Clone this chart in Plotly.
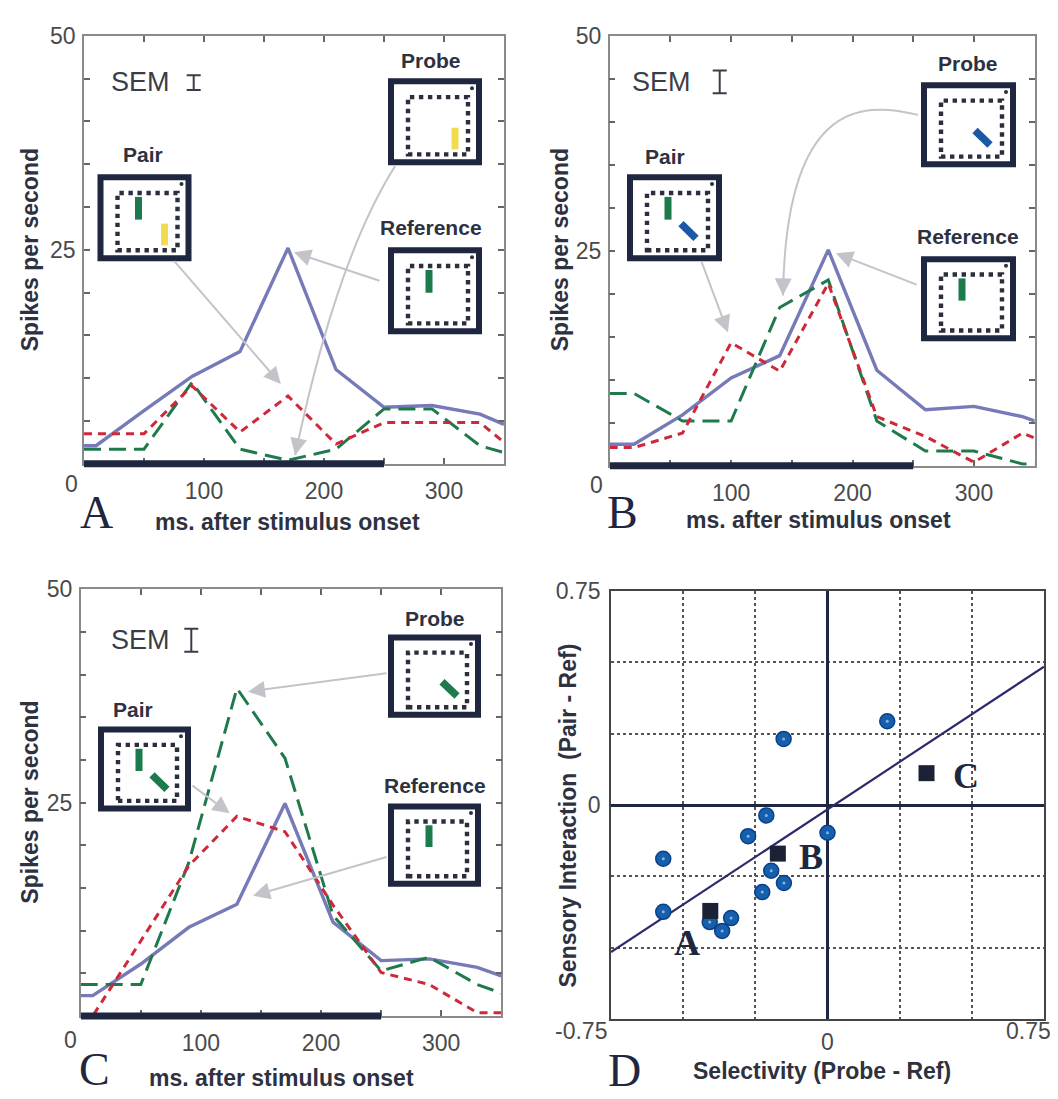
import math
import plotly.graph_objects as go

W, H = 1058, 1099

# ---------------- data ----------------
time_A = [0, 10, 50, 90, 130, 170, 210, 250, 290, 330, 350]
reference_A = [2.1, 2.1, 6.2, 10.2, 13.1, 25.2, 11.0, 6.6, 6.8, 5.8, 4.6]
pair_A = [3.5, 3.5, 3.5, 9.1, 3.7, 7.9, 2.3, 4.8, 4.8, 4.8, 2.5]
probe_A = [1.7, 1.7, 1.7, 9.5, 1.7, 0.4, 1.7, 6.4, 6.4, 2.1, 1.3]

time_B = [0, 20, 60, 100, 140, 180, 220, 260, 300, 340, 350]
reference_B = [2.5, 2.5, 5.9, 10.2, 12.8, 25.1, 11.1, 6.5, 6.9, 5.7, 5.2]
pair_B = [2.1, 2.1, 3.8, 14.3, 11.0, 21.2, 5.7, 3.4, 0.4, 3.8, 3.2]
probe_B = [8.4, 8.4, 5.2, 5.2, 18.4, 21.6, 5.2, 1.7, 1.7, 0.2, 0.2]

time_C = [0, 10, 50, 90, 130, 170, 210, 250, 290, 330, 350]
reference_C = [2.4, 2.4, 6.1, 10.4, 13.1, 24.9, 11.0, 6.5, 6.7, 5.7, 4.7]
pair_C = [0.0, 0.0, 8.8, 17.6, 23.4, 21.6, 13.0, 5.1, 3.7, 0.4, 0.4]
probe_C = [3.7, 3.7, 3.7, 18.0, 38.4, 30.2, 11.8, 5.3, 6.9, 3.7, 2.7]

stimulus_ms = [0, 250]
sem_half = [0.86, 1.32, 1.35]          # panels A, B, C
time_tick_labels = [100, 200, 300]      # the "0" is written at the corner
rate_tick_labels = [25, 50]

selectivity = [0.207, -0.152, -0.212, -0.275, 0.0, -0.569, -0.195, -0.151,
               -0.226, -0.569, -0.408, -0.334, -0.365]
interaction = [0.294, 0.232, -0.036, -0.109, -0.097, -0.188, -0.230, -0.273,
               -0.305, -0.374, -0.410, -0.396, -0.441]
example_names = ["A", "B", "C"]
example_selectivity = [-0.406, -0.172, 0.343]
example_interaction = [-0.371, -0.170, 0.112]
fit_slope = 0.667
fit_intercept = -0.015
fit_span = [-0.75, 0.75]
d_tick_labels = [0, 0.75]              # "-0.75" and the x "0.75" are written at the corners

# ---------------- styling ----------------
NAVY = "#1e2640"
TXT = "#2e3140"
TICKC = "#4a4a4a"
ARROWC = "#c3c3c9"
REF_COL = "#767ab8"
PAIR_COL = "#cf2839"
PROBE_COL = "#1f7a4b"
GREEN_BAR = "#1d7a4c"
YELLOW_BAR = "#f0dc4e"
BLUE_BAR = "#1b58a5"
SANS = "Liberation Sans, Arial, sans-serif"
SERIF = "Liberation Serif, Times New Roman, serif"

panels = {
    "A": dict(xr="x", yr="y", box=(76, 15, 496, 448), xrange=[0, 350], yrange=[0, 50]),
    "B": dict(xr="x2", yr="y2", box=(601.7, 15, 1026.7, 450), xrange=[0, 350], yrange=[0, 50]),
    "C": dict(xr="x3", yr="y3", box=(72.7, 575, 493.3, 1007), xrange=[0, 350], yrange=[0, 50]),
    "D": dict(xr="x4", yr="y4", box=(603, 577, 1036, 1010), xrange=[-0.75, 0.75], yrange=[-0.75, 0.75]),
}


def fx(X):
    return X / W


def fy(Y):
    return 1 - Y / H


def d2p(p, x, y):
    x0, y0, x1, y1 = p["box"]
    xr, yr = p["xrange"], p["yrange"]
    return (x0 + (x - xr[0]) / (xr[1] - xr[0]) * (x1 - x0),
            y1 - (y - yr[0]) / (yr[1] - yr[0]) * (y1 - y0))


def p2d(p, X, Y):
    x0, y0, x1, y1 = p["box"]
    xr, yr = p["xrange"], p["yrange"]
    return (xr[0] + (X - x0) / (x1 - x0) * (xr[1] - xr[0]),
            yr[0] + (y1 - Y) / (y1 - y0) * (yr[1] - yr[0]))


fig = go.Figure()
shapes = []
annotations = []
layout_axes = {}


def text(t, X, Y, size, color=TICKC, family=SANS, angle=0, xanchor="center", yanchor="middle"):
    annotations.append(dict(text=t, x=fx(X), y=fy(Y), xref="paper", yref="paper", showarrow=False,
                            textangle=angle, font=dict(family=family, size=size, color=color),
                            xanchor=xanchor, yanchor=yanchor))


# ---------------- time-course panels ----------------
time_panels = [
    ("A", time_A, reference_A, pair_A, probe_A, sem_half[0], (132, 62), (185.7, 62.3), (63, 469)),
    ("B", time_B, reference_B, pair_B, probe_B, sem_half[1], (653.5, 62), (711.7, 61.7), (588, 470)),
    ("C", time_C, reference_C, pair_C, probe_C, sem_half[2], (132.5, 626.7), (183.3, 626.7), (62, 1031)),
]

for idx, (key, t, ref, pair, probe, sem, sem_txt, sem_bar, zero_xy) in enumerate(time_panels):
    p = panels[key]
    xr, yr = p["xr"], p["yr"]
    fig.add_trace(go.Scatter(x=t, y=ref, mode="lines", xaxis=xr, yaxis=yr,
                             line=dict(color=REF_COL, width=3.4), name="Reference", showlegend=False))
    fig.add_trace(go.Scatter(x=t, y=probe, mode="lines", xaxis=xr, yaxis=yr,
                             line=dict(color=PROBE_COL, width=3, dash="17px,8px"), name="Probe", showlegend=False))
    fig.add_trace(go.Scatter(x=t, y=pair, mode="lines", xaxis=xr, yaxis=yr,
                             line=dict(color=PAIR_COL, width=3, dash="8px,6px"), name="Pair", showlegend=False))
    # SEM scale bar
    sx, sy = p2d(p, *sem_bar)
    fig.add_trace(go.Scatter(x=[sx], y=[sy], mode="markers", xaxis=xr, yaxis=yr,
                             marker=dict(size=2, color="rgba(0,0,0,0)"),
                             error_y=dict(type="data", array=[sem], visible=True, color="#3a3d47",
                                          thickness=2, width=7),
                             showlegend=False, hoverinfo="skip"))
    text("SEM", sem_txt[0], sem_txt[1], 27, color="#3a3d47")
    text("0", zero_xy[0], zero_xy[1], 23)
    # stimulus bar
    shapes.append(dict(type="line", xref=xr, yref=yr + " domain", x0=stimulus_ms[0], x1=stimulus_ms[1],
                       y0=0, y1=0, line=dict(color=NAVY, width=7), layer="above"))

    x0, y0, x1, y1 = p["box"]
    xt = list(range(0, 351, 50))
    yt = list(range(0, 51, 5))
    n = "" if idx == 0 else str(idx + 1)
    layout_axes["xaxis" + n] = dict(
        domain=[x0 / W, x1 / W], range=[0, 350], anchor=yr, tickmode="array", tickvals=xt,
        ticktext=[str(v) if v in time_tick_labels else "" for v in xt],
        ticks="inside", ticklen=6, tickwidth=1.5, tickcolor="#666", showline=True, linecolor="#8a8a8a",
        linewidth=1.5, mirror="ticks", showgrid=False, zeroline=False,
        tickfont=dict(family=SANS, size=23, color=TICKC), ticklabelstandoff=6, fixedrange=True)
    layout_axes["yaxis" + n] = dict(
        domain=[1 - y1 / H, 1 - y0 / H], range=[0, 50], anchor=xr, tickmode="array", tickvals=yt,
        ticktext=[str(v) if v in rate_tick_labels else "" for v in yt],
        ticks="inside", ticklen=6, tickwidth=1.5, tickcolor="#666", showline=True, linecolor="#8a8a8a",
        linewidth=1.5, mirror="ticks", showgrid=False, zeroline=False,
        tickfont=dict(family=SANS, size=23, color=TICKC), ticklabelstandoff=2, fixedrange=True)

# ---------------- panel D ----------------
pD = panels["D"]
fig.add_trace(go.Scatter(x=fit_span, y=[fit_slope * v + fit_intercept for v in fit_span], mode="lines",
                         xaxis="x4", yaxis="y4", line=dict(color="#2b2a6b", width=2.2), showlegend=False))
fig.add_trace(go.Scatter(x=selectivity, y=interaction, mode="markers", xaxis="x4", yaxis="y4",
                         marker=dict(size=15, color="#1560ae", line=dict(color="#0d3f86", width=1.5)),
                         showlegend=False))
fig.add_trace(go.Scatter(x=selectivity, y=interaction, mode="markers", xaxis="x4", yaxis="y4",
                         marker=dict(size=3, color="#8fb0d8"), showlegend=False, hoverinfo="skip"))
fig.add_trace(go.Scatter(x=example_selectivity, y=example_interaction, mode="markers", xaxis="x4", yaxis="y4",
                         marker=dict(size=16, symbol="square", color="#1b2236"), showlegend=False))
label_shift = {"A": (-23, -32), "B": (33, -3), "C": (39, -3)}
for name, sx, sy in zip(example_names, example_selectivity, example_interaction):
    dx, dy = label_shift[name]
    annotations.append(dict(text=f"<b>{name}</b>", x=sx, y=sy, xref="x4", yref="y4", showarrow=False,
                            xshift=dx, yshift=dy, font=dict(family=SERIF, size=36, color=NAVY)))

dvals = [-0.75, -0.5, -0.25, 0, 0.25, 0.5, 0.75]
x0, y0, x1, y1 = pD["box"]
common_d = dict(range=[-0.75, 0.75], tickmode="array", tickvals=dvals,
                showgrid=True, gridcolor="#555", griddash="dot", gridwidth=1.5,
                zeroline=True, zerolinecolor=NAVY, zerolinewidth=2.6,
                showline=True, mirror=True, linecolor="#444", linewidth=1.6, ticks="",
                tickfont=dict(family=SANS, size=23, color=TICKC), fixedrange=True)
layout_axes["xaxis4"] = dict(domain=[x0 / W, x1 / W], anchor="y4", ticklabelstandoff=2,
                             ticktext=["0" if v == 0 else "" for v in dvals], **common_d)
layout_axes["yaxis4"] = dict(domain=[1 - y1 / H, 1 - y0 / H], anchor="x4", ticklabelstandoff=4,
                             ticktext=[("0" if v == 0 else str(v)) if v in d_tick_labels else "" for v in dvals],
                             **common_d)
text("-0.75", 573, 1022, 23)
text("0.75", 1020, 1022, 23)


# ---------------- insets ----------------
def inset(bx, by, w, h, bars, label, lxy):
    lw = 6
    shapes.append(dict(type="rect", xref="paper", yref="paper", x0=fx(bx + lw / 2), x1=fx(bx + w - lw / 2),
                       y0=fy(by + h - lw / 2), y1=fy(by + lw / 2), line=dict(color=NAVY, width=lw),
                       fillcolor="white", layer="above"))
    s = h / 88.0
    shapes.append(dict(type="rect", xref="paper", yref="paper", x0=fx(bx + 20), x1=fx(bx + w - 14),
                       y0=fy(by + h - 11 * s), y1=fy(by + 19 * s),
                       line=dict(color="#2b2f3d", width=4.4, dash="4.4px,4.6px"), layer="above"))
    cx, cy = bx + w - 10, by + 10 * s
    shapes.append(dict(type="circle", xref="paper", yref="paper", x0=fx(cx - 2), x1=fx(cx + 2),
                       y0=fy(cy + 2), y1=fy(cy - 2), fillcolor="#2b2f3d", line=dict(width=0),
                       layer="above"))
    for (a0, b0, a1, b1, col, wd) in bars:
        shapes.append(dict(type="line", xref="paper", yref="paper", x0=fx(bx + a0), y0=fy(by + b0 * s),
                           x1=fx(bx + a1), y1=fy(by + b1 * s), line=dict(color=col, width=wd), layer="above"))
    text(f"<b>{label}</b>", lxy[0], lxy[1], 21, color=TXT)


G_VERT = (41, 23, 41, 46, GREEN_BAR, 7)
Y_VERT = (67, 50, 67, 72, YELLOW_BAR, 7)
B_DIAG = (54, 50, 69, 65, BLUE_BAR, 7.5)
G_DIAG = (54, 50, 69, 65, GREEN_BAR, 7.5)

inset(89.5, 155, 94, 88, [G_VERT, Y_VERT], "Pair", (135, 135))
inset(380, 58, 94, 88, [Y_VERT], "Probe", (423, 40))
inset(380, 229, 94, 88, [G_VERT], "Reference", (423, 209))

inset(619, 155, 95, 88, [G_VERT, B_DIAG], "Pair", (657, 137))
inset(913, 62, 95, 86, [B_DIAG], "Probe", (960, 43))
inset(913, 238, 95, 86, [G_VERT], "Reference", (960, 218))

inset(90, 714, 93, 86, [G_VERT, G_DIAG], "Pair", (125, 697))
inset(380, 621, 93, 84, [G_DIAG], "Probe", (427, 605))
inset(380, 792, 93, 84, [G_VERT], "Reference", (427, 774))


# ---------------- arrows ----------------
def arrow(p, tip, tail):
    tx, ty = d2p(p, *tip)
    annotations.append(dict(x=tip[0], y=tip[1], xref=p["xr"], yref=p["yr"], ax=tail[0] - tx, ay=tail[1] - ty,
                            text="", showarrow=True, arrowhead=2, arrowsize=1.7, arrowwidth=2,
                            arrowcolor=ARROWC, standoff=0))


def curved_arrow(p, tip, pts):
    tx, ty = d2p(p, *tip)
    allp = list(pts) + [(tx, ty)]
    seg = "Q" if len(allp) == 3 else "C"
    path = f"M {fx(allp[0][0])},{fy(allp[0][1])} {seg} " + " ".join(f"{fx(a)},{fy(b)}" for a, b in allp[1:])
    shapes.append(dict(type="path", xref="paper", yref="paper", path=path,
                       line=dict(color=ARROWC, width=2), layer="above"))
    cx, cy = allp[-2]
    dx, dy = tx - cx, ty - cy
    L = math.hypot(dx, dy)
    annotations.append(dict(x=tip[0], y=tip[1], xref=p["xr"], yref=p["yr"], ax=-dx / L * 18, ay=-dy / L * 18,
                            text="", showarrow=True, arrowhead=2, arrowsize=1.7, arrowwidth=2,
                            arrowcolor=ARROWC, standoff=0))


pA, pB, pC = panels["A"], panels["B"], panels["C"]
arrow(pA, (164, 9.3), (165, 243))
arrow(pA, (175, 24.7), (373, 263))
curved_arrow(pA, (176, 1.0), [(387, 147), (328.5, 240.5)])

arrow(pB, (97.4, 15.5), (693, 243))
curved_arrow(pB, (142.7, 19.8), [(910, 95), (850, 80), (778, 85)])
arrow(pB, (186.4, 24.7), (910, 267))

arrow(pC, (139.2, 38.0), (380, 660))
arrow(pC, (124, 23.75), (183, 773))
arrow(pC, (143.4, 14.1), (380, 846))

# ---------------- titles and panel letters ----------------
for X, Y in [(22, 232), (552, 232), (22, 791)]:
    text("<b>Spikes per second</b>", X, Y, 23, color=TXT, angle=-90)
for X, Y in [(279, 507), (810, 505), (273, 1070)]:
    text("<b>ms. after stimulus onset</b>", X, Y, 23, color=TXT)
text("<b>Selectivity (Probe - Ref)</b>", 814, 1063, 23, color=TXT)
text("<b>Sensory Interaction  (Pair - Ref)</b>", 560, 804, 23, color=TXT, angle=-90)

for letter, X, Y in [("A", 88, 497), ("B", 614, 497)]:
    text(letter, X, Y, 46, color=NAVY, family=SERIF)
for letter, X, Y in [("C", 86, 1089), ("D", 616, 1090)]:
    text(letter, X, Y, 46, color=NAVY, family=SERIF, yanchor="bottom")

fig.update_layout(width=W, height=H, margin=dict(l=0, r=0, t=0, b=0), paper_bgcolor="white",
                  plot_bgcolor="white", showlegend=False, shapes=shapes, annotations=annotations,
                  **layout_axes)

fig.write_html("out.html")
